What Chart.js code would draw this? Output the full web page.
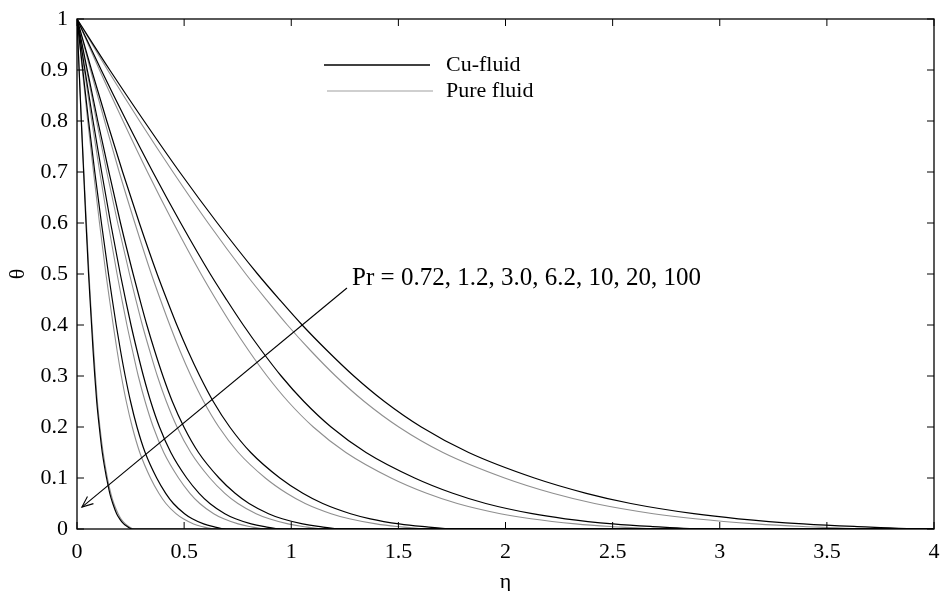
<!DOCTYPE html>
<html>
<head>
<meta charset="utf-8">
<script src="https://cdn.jsdelivr.net/npm/chart.js@4.4.1/dist/chart.umd.min.js"></script>
<style>
  html, body { margin: 0; padding: 0; background: #fff; }
  #wrap { width: 943px; height: 591px; }
</style>
</head>
<body>
<div id="wrap"><canvas id="thetaChart"></canvas></div>
<script>
// Pr values of the curves
const prValues = ['0.72', '1.2', '3.0', '6.2', '10', '20', '100'];

// theta levels at which eta was read for every curve (last point: tail along the axis)
const thetaLevels = [1, 0.9, 0.8, 0.7, 0.6, 0.5, 0.449, 0.4, 0.35, 0.3, 0.25, 0.2, 0.15, 0.1, 0.07, 0.05, 0.03, 0.02, 0.01, 0.005, 0, 0];

// eta, Cu-fluid (black)
const etaCu072 = [0, 0.153, 0.313, 0.479, 0.655, 0.843, 0.947, 1.051, 1.167, 1.292, 1.435, 1.607, 1.828, 2.135, 2.377, 2.585, 2.879, 3.087, 3.390, 3.627, 3.996, 4];
const etaCu12  = [0, 0.113, 0.231, 0.354, 0.484, 0.622, 0.699, 0.776, 0.861, 0.953, 1.059, 1.186, 1.349, 1.576, 1.754, 1.908, 2.125, 2.279, 2.502, 2.677, 2.950, 4];
const etaCu3   = [0, 0.068, 0.139, 0.213, 0.291, 0.374, 0.420, 0.466, 0.517, 0.573, 0.636, 0.713, 0.811, 0.947, 1.054, 1.147, 1.277, 1.369, 1.504, 1.609, 1.772, 4];
const etaCu62  = [0, 0.048, 0.097, 0.149, 0.203, 0.262, 0.294, 0.326, 0.362, 0.401, 0.445, 0.499, 0.567, 0.663, 0.738, 0.803, 0.894, 0.958, 1.053, 1.126, 1.241, 4];
const etaCu10  = [0, 0.037, 0.075, 0.115, 0.157, 0.202, 0.227, 0.252, 0.280, 0.310, 0.344, 0.385, 0.438, 0.512, 0.570, 0.620, 0.690, 0.740, 0.813, 0.869, 0.958, 4];
const etaCu20  = [0, 0.027, 0.054, 0.083, 0.114, 0.147, 0.165, 0.183, 0.203, 0.225, 0.250, 0.280, 0.318, 0.372, 0.414, 0.450, 0.502, 0.538, 0.591, 0.632, 0.696, 4];
const etaCu100 = [0, 0.010, 0.020, 0.031, 0.042, 0.054, 0.061, 0.068, 0.075, 0.083, 0.092, 0.104, 0.118, 0.138, 0.153, 0.167, 0.185, 0.199, 0.218, 0.234, 0.257, 4];

// eta, pure fluid (grey)
const etaPure072 = [0, 0.143, 0.292, 0.448, 0.612, 0.788, 0.885, 0.982, 1.090, 1.207, 1.341, 1.502, 1.708, 1.996, 2.221, 2.416, 2.690, 2.885, 3.168, 3.390, 3.735, 4];
const etaPure12  = [0, 0.105, 0.215, 0.329, 0.450, 0.579, 0.650, 0.722, 0.801, 0.887, 0.985, 1.103, 1.255, 1.466, 1.632, 1.775, 1.976, 2.119, 2.327, 2.490, 2.743, 4];
const etaPure3   = [0, 0.063, 0.129, 0.197, 0.270, 0.347, 0.390, 0.433, 0.480, 0.532, 0.591, 0.662, 0.753, 0.879, 0.979, 1.065, 1.186, 1.271, 1.396, 1.494, 1.646, 4];
const etaPure62  = [0, 0.045, 0.091, 0.139, 0.190, 0.245, 0.275, 0.305, 0.339, 0.375, 0.417, 0.467, 0.531, 0.620, 0.690, 0.751, 0.836, 0.897, 0.985, 1.053, 1.161, 4];
const etaPure10  = [0, 0.034, 0.069, 0.106, 0.145, 0.187, 0.210, 0.233, 0.259, 0.286, 0.318, 0.356, 0.405, 0.474, 0.527, 0.573, 0.638, 0.685, 0.752, 0.804, 0.886, 4];
const etaPure20  = [0, 0.025, 0.050, 0.077, 0.105, 0.135, 0.152, 0.169, 0.187, 0.207, 0.230, 0.258, 0.293, 0.343, 0.382, 0.415, 0.462, 0.496, 0.544, 0.582, 0.641, 4];
const etaPure100 = [0, 0.010, 0.021, 0.032, 0.044, 0.056, 0.063, 0.070, 0.078, 0.086, 0.095, 0.107, 0.122, 0.142, 0.158, 0.172, 0.192, 0.205, 0.226, 0.241, 0.266, 4];

const cuCurves = [etaCu072, etaCu12, etaCu3, etaCu62, etaCu10, etaCu20, etaCu100];
const pureCurves = [etaPure072, etaPure12, etaPure3, etaPure62, etaPure10, etaPure20, etaPure100];

const xTicks = [0, 0.5, 1, 1.5, 2, 2.5, 3, 3.5, 4];
const legendLabels = ['Cu-fluid', 'Pure fluid'];
const prNote = 'Pr = ' + prValues.join(', ');

const FONT = 'Liberation Serif, Times New Roman, serif';

function toPoints(etas) {
  return etas.map((e, i) => ({ x: e, y: thetaLevels[i] }));
}

const datasets = [];
cuCurves.forEach((c, i) => datasets.push({
  label: 'Cu-fluid Pr=' + prValues[i],
  data: toPoints(c),
  borderColor: '#000',
  borderWidth: 1.2
}));
pureCurves.forEach((c, i) => datasets.push({
  label: 'Pure fluid Pr=' + prValues[i],
  data: toPoints(c),
  borderColor: '#8f8f8f',
  borderWidth: 1.1
}));

// box, inward ticks, legend and the Pr arrow
const decorPlugin = {
  id: 'decor',
  afterDraw(chart) {
    const { ctx, chartArea: a, scales: { x, y } } = chart;
    ctx.save();
    ctx.strokeStyle = '#000';
    ctx.lineWidth = 1.3;
    ctx.strokeRect(a.left, a.top, a.right - a.left, a.bottom - a.top);

    const tl = 7;
    ctx.lineWidth = 1;
    ctx.beginPath();
    xTicks.forEach(v => {
      const px = x.getPixelForValue(v);
      ctx.moveTo(px, a.bottom); ctx.lineTo(px, a.bottom - tl);
      ctx.moveTo(px, a.top); ctx.lineTo(px, a.top + tl);
    });
    y.ticks.forEach(t => {
      const py = y.getPixelForValue(t.value);
      ctx.moveTo(a.left, py); ctx.lineTo(a.left + tl, py);
      ctx.moveTo(a.right, py); ctx.lineTo(a.right - tl, py);
    });
    ctx.stroke();

    // legend
    ctx.font = '22px ' + FONT;
    ctx.fillStyle = '#000';
    ctx.textBaseline = 'middle';
    ctx.textAlign = 'left';
    ctx.strokeStyle = '#000';
    ctx.lineWidth = 1.4;
    ctx.beginPath(); ctx.moveTo(324, 65); ctx.lineTo(430, 65); ctx.stroke();
    ctx.strokeStyle = '#a0a0a0';
    ctx.lineWidth = 1.1;
    ctx.beginPath(); ctx.moveTo(327, 91); ctx.lineTo(433, 91); ctx.stroke();
    ctx.fillText(legendLabels[0], 446, 65);
    ctx.fillText(legendLabels[1], 446, 91);

    // Pr arrow
    const x0 = x.getPixelForValue(1.26), y0 = y.getPixelForValue(0.4725);
    const x1 = x.getPixelForValue(0.023), y1 = y.getPixelForValue(0.043);
    ctx.strokeStyle = '#000';
    ctx.lineWidth = 1.1;
    ctx.beginPath(); ctx.moveTo(x0, y0); ctx.lineTo(x1, y1); ctx.stroke();
    const ang = Math.atan2(y1 - y0, x1 - x0), h = 12, w = 0.4;
    ctx.beginPath();
    ctx.moveTo(x1 - h * Math.cos(ang - w), y1 - h * Math.sin(ang - w));
    ctx.lineTo(x1, y1);
    ctx.lineTo(x1 - h * Math.cos(ang + w), y1 - h * Math.sin(ang + w));
    ctx.stroke();
    ctx.font = '25px ' + FONT;
    ctx.fillText(prNote, x.getPixelForValue(1.284), y.getPixelForValue(0.492));
    ctx.restore();
  }
};

const fmt = v => String(Number(v.toFixed(2)));

const thetaCtx = document.getElementById('thetaChart').getContext('2d');
const thetaChart = new Chart(thetaCtx, {
  type: 'scatter',
  data: { datasets },
  options: {
    responsive: true,
    maintainAspectRatio: false,
    animation: false,
    showLine: true,
    elements: {
      point: { radius: 0 },
      line: { cubicInterpolationMode: 'monotone', fill: false }
    },
    layout: { padding: { top: 19, right: 9, left: 0, bottom: 0 } },
    plugins: {
      legend: { display: false },
      tooltip: { enabled: false }
    },
    scales: {
      x: {
        type: 'linear',
        min: 0,
        max: 4,
        afterFit(scale) { scale.height = 62; scale.paddingLeft = 0; scale.paddingRight = 0; },
        afterBuildTicks(scale) { scale.ticks = xTicks.map(v => ({ value: v })); },
        grid: { display: false, drawTicks: false },
        border: { display: false },
        ticks: { color: '#000', padding: 10, maxRotation: 0, callback: fmt, font: { family: FONT, size: 22 } },
        title: { display: true, text: 'η', color: '#000', padding: { top: 0, bottom: -2 }, font: { family: FONT, size: 22, lineHeight: 1 } }
      },
      y: {
        min: 0,
        max: 1,
        afterFit(scale) { scale.width = 77; scale.paddingTop = 0; scale.paddingBottom = 0; },
        grid: { display: false, drawTicks: false },
        border: { display: false },
        ticks: { color: '#000', padding: 9, stepSize: 0.1, callback: fmt, font: { family: FONT, size: 22 } },
        title: { display: true, text: 'θ', color: '#000', padding: { top: 7, bottom: 0 }, font: { family: FONT, size: 22, lineHeight: 1 } }
      }
    }
  },
  plugins: [decorPlugin]
});
</script>
</body>
</html>
